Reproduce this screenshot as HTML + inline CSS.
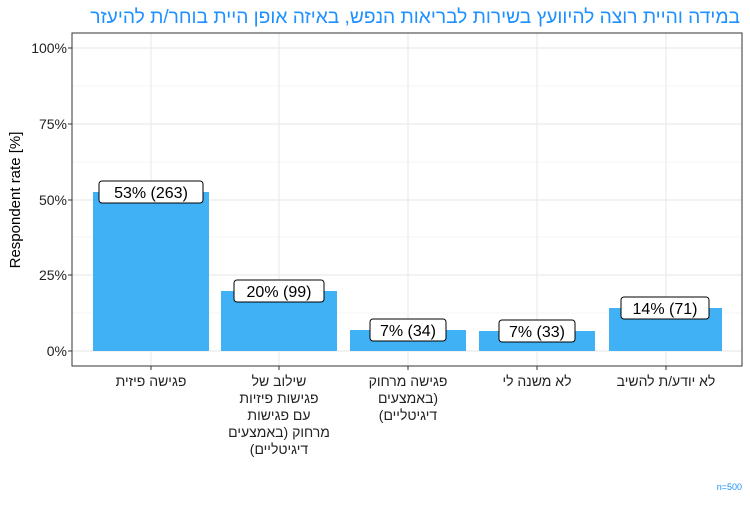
<!DOCTYPE html>
<html><head><meta charset="utf-8"><style>body{margin:0;background:#fff}</style></head><body>
<svg width="750" height="500" xmlns="http://www.w3.org/2000/svg" font-family="Liberation Sans, DejaVu Sans, sans-serif">
<rect width="750" height="500" fill="#fff"/>
<text x="740" y="23" text-anchor="start" direction="rtl" font-size="19.2" fill="#1E90FF">במידה והיית רוצה להיוועץ בשירות לבריאות הנפש, באיזה אופן היית בוחר/ת להיעזר</text>
<g stroke="#ebebeb" stroke-width="0.6">
<line x1="72" x2="742" y1="313" y2="313"/><line x1="72" x2="742" y1="237" y2="237"/><line x1="72" x2="742" y1="162" y2="162"/><line x1="72" x2="742" y1="86" y2="86"/>
</g>
<g stroke="#ebebeb" stroke-width="1.2">
<line x1="72" x2="742" y1="351" y2="351"/><line x1="72" x2="742" y1="275" y2="275"/><line x1="72" x2="742" y1="200" y2="200"/><line x1="72" x2="742" y1="124" y2="124"/><line x1="72" x2="742" y1="48" y2="48"/>
<line x1="151" x2="151" y1="33" y2="366"/><line x1="279" x2="279" y1="33" y2="366"/><line x1="408" x2="408" y1="33" y2="366"/><line x1="537" x2="537" y1="33" y2="366"/><line x1="666" x2="666" y1="33" y2="366"/>
</g>
<g fill="#41B1F5">
<rect x="93" y="192" width="116" height="159"/>
<rect x="221" y="291" width="116" height="60"/>
<rect x="350" y="330" width="116" height="21"/>
<rect x="479" y="331" width="116" height="20"/>
<rect x="609" y="308" width="113" height="43"/>
</g>
<rect x="72" y="33" width="670" height="333" fill="none" stroke="#333" stroke-width="1"/>
<g font-size="16" text-anchor="middle" fill="#000">
<rect x="99" y="181" width="104" height="22" rx="3" fill="#fff" stroke="#000"/><text x="151" y="198">53% (263)</text>
<rect x="234" y="280" width="90" height="22" rx="3" fill="#fff" stroke="#000"/><text x="279" y="297">20% (99)</text>
<rect x="370" y="319" width="76" height="22" rx="3" fill="#fff" stroke="#000"/><text x="408" y="336">7% (34)</text>
<rect x="499" y="320" width="76" height="22" rx="3" fill="#fff" stroke="#000"/><text x="537" y="337">7% (33)</text>
<rect x="621" y="297" width="88" height="22" rx="3" fill="#fff" stroke="#000"/><text x="665" y="314">14% (71)</text>
</g>
<g font-size="14" fill="#222" text-anchor="end">
<text x="67" y="356">0%</text><text x="67" y="280">25%</text><text x="67" y="205">50%</text><text x="67" y="129">75%</text><text x="67" y="53">100%</text>
</g>
<g stroke="#333"><line x1="68" x2="72" y1="351" y2="351"/><line x1="68" x2="72" y1="275" y2="275"/><line x1="68" x2="72" y1="200" y2="200"/><line x1="68" x2="72" y1="124" y2="124"/><line x1="68" x2="72" y1="48" y2="48"/>
<line x1="151" x2="151" y1="366" y2="370"/><line x1="279" x2="279" y1="366" y2="370"/><line x1="408" x2="408" y1="366" y2="370"/><line x1="537" x2="537" y1="366" y2="370"/><line x1="666" x2="666" y1="366" y2="370"/></g>
<text transform="translate(20,200) rotate(-90)" text-anchor="middle" font-size="15" fill="#000">Respondent rate [%]</text>
<g font-size="14" fill="#222" text-anchor="middle" direction="rtl">
<text x="151" y="386">פגישה פיזית</text>
<text x="279" y="386">שילוב של</text><text x="279" y="403">פגישות פיזיות</text><text x="279" y="420">עם פגישות</text><text x="279" y="437">מרחוק (באמצעים</text><text x="279" y="454">דיגיטליים)</text>
<text x="408" y="386">פגישה מרחוק</text><text x="408" y="403">(באמצעים</text><text x="408" y="420">דיגיטליים)</text>
<text x="537" y="386">לא משנה לי</text>
<text x="666" y="386">לא יודע/ת להשיב</text>
</g>
<text x="742" y="490" text-anchor="end" font-size="9" fill="#1E90FF">n=500</text>
</svg>
</body></html>
